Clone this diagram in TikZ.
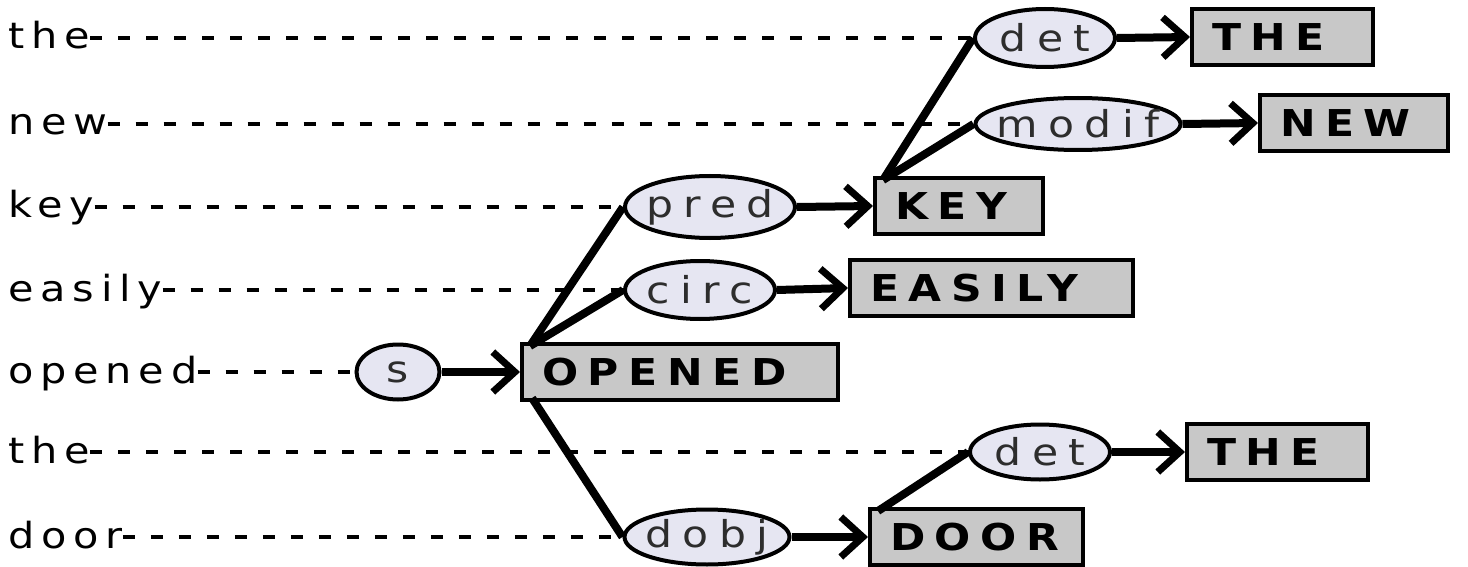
\documentclass[tikz,border=0pt]{standalone}
\usepackage{fontspec}
\newfontfamily\wordfont{DejaVu Sans}[FakeStretch=1.15,LetterSpace=19]
\newfontfamily\relfont{DejaVu Sans}[FakeStretch=1.15,LetterSpace=28]
\newfontfamily\headfont{DejaVu Sans}[FakeStretch=1.15,LetterSpace=26]
\usetikzlibrary{shapes.geometric,arrows.meta}
\definecolor{lav}{RGB}{230,230,242}
\definecolor{boxgray}{RGB}{200,200,200}
\definecolor{reltext}{RGB}{45,45,45}
\begin{document}
\begin{tikzpicture}[x=1pt,y=-1pt,
  word/.style={anchor=base west, inner sep=0pt, font=\wordfont\fontsize{36}{42}\selectfont},
  rel/.style={ellipse, draw, line width=4pt, fill=lav, minimum width=#1,
    minimum height=56pt, inner xsep=-14pt, inner ysep=-4pt, text=reltext,
    font=\relfont\fontsize{37}{42}\selectfont},
  head/.style={rectangle, draw, line width=4pt, fill=boxgray, minimum height=56pt,
    text width=#1, align=left, inner xsep=20pt, inner ysep=0pt,
    font=\headfont\bfseries\fontsize{37}{42}\selectfont},
  guide/.style={line width=4pt, dash pattern=on 12pt off 16pt},
  edge/.style={line width=8pt},
  link/.style={line width=8pt, -{Straight Barb[length=22pt,width=40pt,line width=7pt]}}
]
\useasboundingbox (0,0) rectangle (1468,567);

% sentence words
\node[word] (w1) at (8,49) {the};
\node[word] (w2) at (8,135) {new};
\node[word] (w3) at (8,218) {key};
\node[word] (w4) at (8,301) {easily};
\node[word] (w5) at (8,383) {opened};
\node[word] (w6) at (8,463) {the};
\node[word] (w7) at (8,548) {door};

% relation labels
\node[rel=140pt, minimum height=58pt] (det1) at (1045,38) {det};
\node[rel=205pt, minimum height=52pt] (modif) at (1078,124) {modif};
\node[rel=170pt, minimum height=62pt] (pred) at (710,207) {pred};
\node[rel=150pt, minimum height=58pt] (circ) at (700,290) {circ};
\node[rel=83pt, minimum height=55pt] (s) at (398,372) {s};
\node[rel=140pt, minimum height=55pt] (det2) at (1040,452) {det};
\node[rel=165pt, minimum height=55pt] (dobj) at (707,537) {dobj};

% head words
\node[head=141pt] (the1) at (1282.5,37) {THE};
\node[head=148pt] (new) at (1354,123) {NEW};
\node[head=128pt] (key) at (959,206) {KEY};
\node[head=243pt] (easily) at (991.5,288) {EASILY};
\node[head=276pt] (opened) at (680,372) {OPENED};
\node[head=141pt] (the2) at (1277.5,452) {THE};
\node[head=173pt] (door) at (976.5,537) {DOOR};

% alignment guides from words to relations
\draw[guide] (w1.east |- det1.west) -- (det1.west);
\draw[guide] (w2.east |- modif.west) -- (modif.west);
\draw[guide] (w3.east |- pred.west) -- (pred.west);
\draw[guide] (w4.east |- circ.west) -- (circ.west);
\draw[guide] (w5.east |- s.west) -- (s.west);
\draw[guide] (w6.east |- det2.west) -- (det2.west);
\draw[guide] (w7.east |- dobj.west) -- (dobj.west);

% tree edges
\draw[edge] ([shift={(10,4)}]opened.north west) -- (pred.west);
\draw[edge] ([shift={(10,4)}]opened.north west) -- (circ.west);
\draw[edge] ([shift={(12,-4)}]opened.south west) -- (dobj.west);
\draw[edge] ([shift={(10,4)}]key.north west) -- (det1.west);
\draw[edge] ([shift={(10,4)}]key.north west) -- (modif.west);
\draw[edge] ([shift={(10,4)}]door.north west) -- (det2.west);

% relation arrows
\draw[link] (det1.east) -- (the1.west);
\draw[link] (modif.east) -- (new.west);
\draw[link] (pred.east) -- (key.west);
\draw[link] (circ.east) -- (easily.west);
\draw[link] (s.east) -- (opened.west);
\draw[link] (det2.east) -- (the2.west);
\draw[link] (dobj.east) -- (door.west);
\end{tikzpicture}
\end{document}
